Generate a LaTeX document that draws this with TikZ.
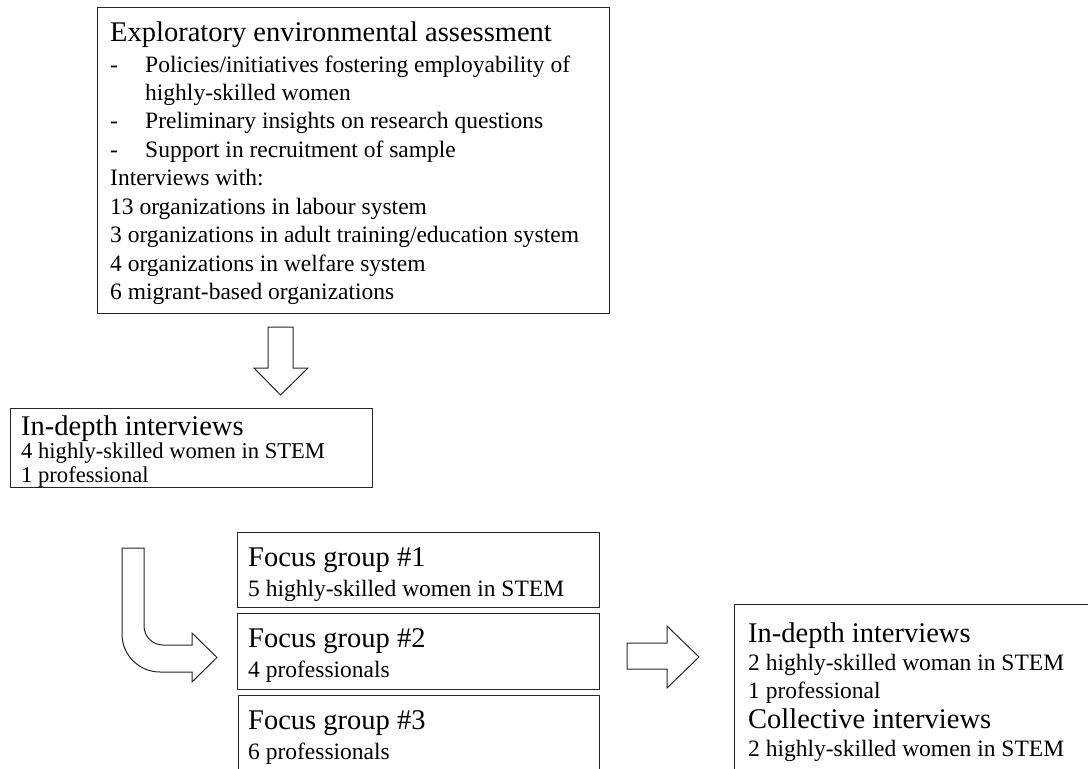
\documentclass[tikz,border=0pt]{standalone}
\usepackage{fontspec}
\setmainfont{Liberation Serif}
\tikzset{
  box/.style={draw=black!85, line width=1.2pt, inner sep=0pt, anchor=north west},
  ttl/.style={inner sep=0pt, anchor=base west, font=\fontsize{28.5}{30}\selectfont},
  bdy/.style={inner sep=0pt, anchor=base west, font=\fontsize{23.5}{26}\selectfont},
  bdys/.style={inner sep=0pt, anchor=base west, font=\fontsize{22.6}{25}\selectfont},
  blockarrow/.style={draw=black!85, line width=1pt, fill=white, line join=miter},
}
\begin{document}
\begin{tikzpicture}[x=1pt, y=-1pt]
\useasboundingbox (0,0) rectangle (1088,769);
\clip (0,0) rectangle (1088,769);
\fill[white] (0,0) rectangle (1088,769);

% top box
\node[box, minimum width=512pt, minimum height=306pt] (assess) at (97,7) {};
\node[ttl] (a0) at (110,41) {Exploratory environmental assessment};
\node[bdy] (a1d) at (110,72) {-};
\node[bdy] (a1) at (145,72) {Policies/initiatives fostering employability of};
\node[bdy] (a2) at (145,100) {highly-skilled women};
\node[bdy] (a3d) at (110,128) {-};
\node[bdy] (a3) at (145,128) {Preliminary insights on research questions};
\node[bdy] (a4d) at (110,157) {-};
\node[bdy] (a4) at (145,157) {Support in recruitment of sample};
\node[bdy] (a5) at (110,185) {Interviews with:};
\node[bdy] (a6) at (110,214) {13 organizations in labour system};
\node[bdy] (a7) at (110,242) {3 organizations in adult training/education system};
\node[bdy] (a8) at (110,271) {4 organizations in welfare system};
\node[bdy] (a9) at (110,299) {6 migrant-based organizations};

% down arrow
\draw[blockarrow] (268,327) -- (293,327) -- (293,368) -- (308,368) -- (280.5,395)
  -- (254,368) -- (268,368) -- cycle;

% in-depth interviews box
\node[box, minimum width=362pt, minimum height=79pt] (idi) at (10,408) {};
\node[ttl] (i0) at (21,435) {In-depth interviews};
\node[bdys] (i1) at (21,458.5) {4 highly-skilled women in STEM};
\node[bdys] (i2) at (21,482) {1 professional};

% curved arrow
\draw[blockarrow] (122,548) -- (144,548) -- (144,626)
  .. controls (144,636.5) and (152.5,645) .. (163,645)
  -- (192,645) -- (192,633) -- (217,657.5) -- (192,682) -- (192,672) -- (160,672)
  .. controls (139,672) and (122,655) .. (122,634) -- cycle;

% focus groups
\node[box, minimum width=362pt, minimum height=75pt] (fg1) at (237,532) {};
\node[ttl] (f1a) at (248,566) {Focus group \#1};
\node[bdy] (f1b) at (248,596) {5 highly-skilled women in STEM};
\node[box, minimum width=362pt, minimum height=76pt] (fg2) at (237,613) {};
\node[ttl] (f2a) at (248,647) {Focus group \#2};
\node[bdy] (f2b) at (248,677) {4 professionals};
\node[box, minimum width=361pt, minimum height=100pt] (fg3) at (238,695) {};
\node[ttl] (f3a) at (248,729) {Focus group \#3};
\node[bdy] (f3b) at (248,759) {6 professionals};

% right arrow
\draw[blockarrow] (627,643) -- (667,643) -- (667,626) -- (699,657) -- (667,688)
  -- (667,669) -- (627,669) -- cycle;

% final box
\node[box, minimum width=400pt, minimum height=200pt] (fin) at (734,604) {};
\node[ttl] (r0) at (748,642) {In-depth interviews};
\node[bdy] (r1) at (748,670) {2 highly-skilled woman in STEM};
\node[bdy] (r2) at (748,698) {1 professional};
\node[ttl] (r3) at (748,728) {Collective interviews};
\node[bdy] (r4) at (748,756) {2 highly-skilled women in STEM};
\end{tikzpicture}
\end{document}
